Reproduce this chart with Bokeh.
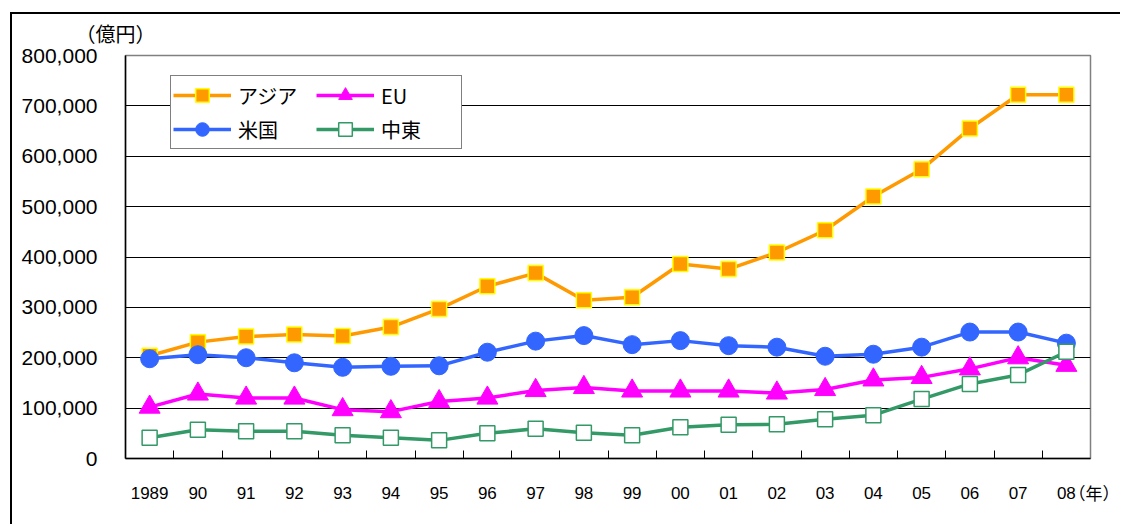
from bokeh.plotting import figure
from bokeh.models import (Range1d, FixedTicker, NumeralTickFormatter, Legend,
                          LegendItem, Label)
from bokeh.embed import file_html
from bokeh.resources import INLINE

years = ["1989", "90", "91", "92", "93", "94", "95", "96", "97", "98", "99",
         "00", "01", "02", "03", "04", "05", "06", "07", "08"]
asia = [204000, 231000, 242000, 246000, 243000, 261000, 297000, 342000, 368000, 314000,
        320000, 386000, 376000, 409000, 453000, 520000, 574000, 655000, 722000, 722000]
us = [198000, 206000, 200000, 190000, 181000, 183000, 184000, 211000, 233000, 244000,
      226000, 234000, 224000, 221000, 203000, 207000, 221000, 251000, 251000, 229000]
eu = [102000, 128000, 120000, 120000, 97000, 93000, 113000, 120000, 135000, 141000,
      134000, 134000, 134000, 130000, 137000, 156000, 161000, 178000, 200000, 185000]
me = [41000, 57000, 54000, 54000, 46000, 41000, 36000, 50000, 59000, 51000,
      46000, 62000, 67000, 68000, 78000, 86000, 118000, 148000, 166000, 212000]
y_ticks = [0, 100000, 200000, 300000, 400000, 500000, 600000, 700000, 800000]

x = list(range(len(years)))

NUM_FONT = "Liberation Sans"
JP_FONT = "Noto Sans CJK JP"

p = figure(width=1110, height=512, output_backend="svg", toolbar_location=None,
           x_range=Range1d(-0.5, len(years) - 0.5), y_range=Range1d(0, 800000),
           min_border_left=113, min_border_right=32, min_border_top=41,
           min_border_bottom=68)
p.styles = {"border-top": "2px solid black", "border-left": "2px solid black",
            "margin-left": "10px", "margin-top": "12px"}
p.background_fill_color = "white"
p.border_fill_color = "white"
p.outline_line_color = "#808080"
p.outline_line_width = 1.5

p.xgrid.visible = False
p.ygrid.ticker = FixedTicker(ticks=y_ticks[1:-1])
p.ygrid.grid_line_color = "black"
p.ygrid.grid_line_width = 1

# x axis
p.xaxis.ticker = FixedTicker(ticks=x, minor_ticks=[i + 0.5 for i in x[:-1]])
p.xaxis.major_label_overrides = {i: lab for i, lab in zip(x, years)}
p.xaxis.major_tick_in = 0
p.xaxis.major_tick_out = 0
p.xaxis.minor_tick_in = 8
p.xaxis.minor_tick_out = 0
p.xaxis.minor_tick_line_color = "black"
p.xaxis.minor_tick_line_width = 1
p.xaxis.axis_line_color = "black"
p.xaxis.axis_line_width = 1.5
p.xaxis.major_label_standoff = 28
p.xaxis.major_label_text_font = NUM_FONT
p.xaxis.major_label_text_font_size = "17px"
p.xaxis.major_label_text_color = "black"

# y axis
p.yaxis.ticker = FixedTicker(ticks=y_ticks)
p.yaxis.formatter = NumeralTickFormatter(format="0,0")
p.yaxis.major_tick_in = 0
p.yaxis.major_tick_out = 0
p.yaxis.minor_tick_line_color = None
p.yaxis.axis_line_color = "black"
p.yaxis.axis_line_width = 1.5
p.yaxis.major_label_standoff = 28
p.yaxis.major_label_text_font = NUM_FONT
p.yaxis.major_label_text_font_size = "21px"
p.yaxis.major_label_text_color = "black"

LW = 3.5
la = p.line(x, asia, line_color="#FF9900", line_width=LW)
sa = p.scatter(x, asia, marker="square", size=15, fill_color="#FF9900",
               line_color="#FFFF00", line_width=1.5)
le = p.line(x, eu, line_color="#FF00FF", line_width=LW)
se = p.scatter(x, eu, marker="triangle", size=21, fill_color="#FF00FF",
               line_color="#FF00FF", line_width=1)
lu = p.line(x, us, line_color="#3366FF", line_width=LW)
su = p.scatter(x, us, marker="circle", size=18, fill_color="#3366FF",
               line_color="#3366FF", line_width=1)
lm = p.line(x, me, line_color="#339966", line_width=LW)
sm = p.scatter(x, me, marker="square", size=15, fill_color="white",
               line_color="#339966", line_width=1.5)

legend = Legend(
    items=[LegendItem(label="アジア", renderers=[la, sa]),
           LegendItem(label="米国", renderers=[lu, su]),
           LegendItem(label="EU", renderers=[le, se]),
           LegendItem(label="中東", renderers=[lm, sm])],
    location=(45, 309), ncols=2, orientation="vertical",
    glyph_width=58, glyph_height=34, label_height=24, label_width=78,
    spacing=0, padding=2,
    label_standoff=7, label_text_font=JP_FONT, label_text_font_size="20px",
    label_text_color="black", border_line_color="black", border_line_width=1,
    background_fill_color="white", background_fill_alpha=1)
p.add_layout(legend)

unit_y = Label(x=-0.5, y=y_ticks[-1], x_offset=-50, y_offset=22, text="（億円）",
               text_font=JP_FONT, text_font_size="20px", text_baseline="middle",
               text_color="black")
p.add_layout(unit_y, "above")

unit_x = Label(x=len(years) - 0.5, y=0, x_offset=-22, y_offset=-34, text="（年）",
               text_font=JP_FONT, text_font_size="17px", text_baseline="middle",
               text_color="black")
p.add_layout(unit_x, "below")

open("out.html", "w").write(file_html(p, INLINE))
